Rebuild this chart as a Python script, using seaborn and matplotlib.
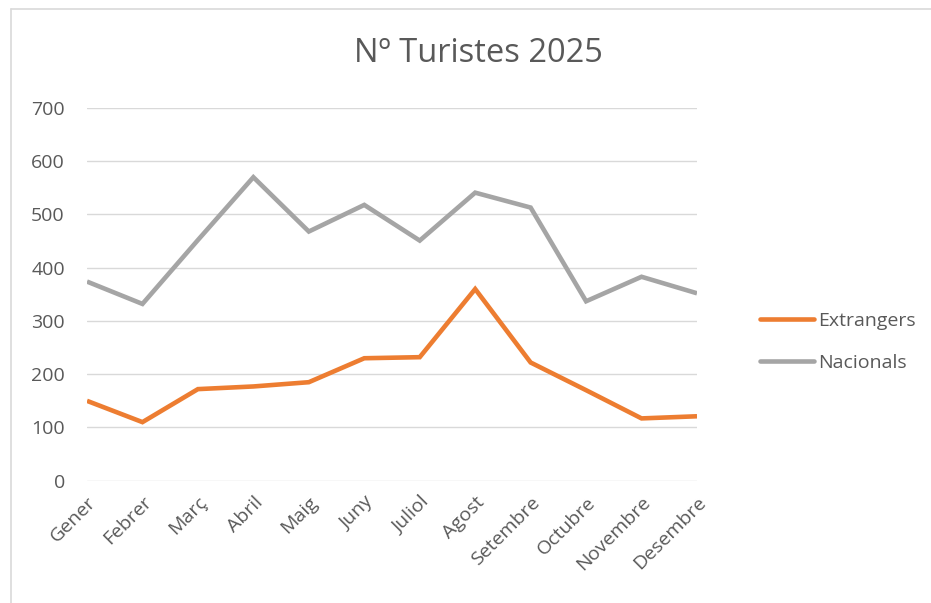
import matplotlib
matplotlib.use("Agg")
import matplotlib.pyplot as plt
from matplotlib.lines import Line2D
import seaborn as sns
import pandas as pd

months = ["Gener", "Febrer", "Març", "Abril", "Maig", "Juny", "Juliol",
          "Agost", "Setembre", "Octubre", "Novembre", "Desembre"]
extrangers = [150, 110, 172, 177, 185, 230, 232, 360, 222, 170, 117, 121]
nacionals = [374, 332, 452, 570, 468, 518, 451, 541, 513, 337, 383, 352]
series_names = ["Extrangers", "Nacionals"]
colors = ["#ED7D31", "#A5A5A5"]
yticks = [0, 100, 200, 300, 400, 500, 600, 700]

sns.set_theme(style="white")
plt.rcParams['font.family'] = ['Open Sans', 'DejaVu Sans']

df = pd.DataFrame({
    "pos": list(range(len(months))) * 2,
    "value": extrangers + nacionals,
    "serie": [series_names[0]] * len(months) + [series_names[1]] * len(months),
})

W, H = 931, 603
fig = plt.figure(figsize=(W / 100, H / 100), dpi=100)
ax = fig.add_axes([87 / W, 1 - 480.7 / H, (697 - 87) / W, (480.7 - 108) / H])

sns.lineplot(data=df, x="pos", y="value", hue="serie", palette=colors,
             linewidth=3.3, ax=ax, legend=False, zorder=3)
for l in ax.lines:
    l.set_solid_joinstyle("miter")
    l.set_solid_capstyle("butt")

ax.set_xlim(0, len(months) - 1)
ax.set_ylim(0, 700)
ax.set_yticks(yticks)
ax.set_yticklabels([str(v) for v in yticks])
ax.set_xticks(range(len(months)))
ax.set_xticklabels(months, rotation=45, ha="right", rotation_mode="anchor")
ax.grid(axis="y", color="#D9D9D9", linewidth=1.0, zorder=0)
ax.set_axisbelow(True)
for s in ax.spines.values():
    s.set_visible(False)
ax.tick_params(axis="y", length=0, pad=16, labelsize=14, labelcolor="#595959")
ax.tick_params(axis="x", length=0, pad=9, labelsize=14, labelcolor="#595959")
ax.set_xlabel("")
ax.set_ylabel("")

handles = [Line2D([0], [0], color=c, linewidth=3.3, solid_capstyle="round") for c in colors]
leg = fig.legend(handles, series_names, loc="center left",
                 bbox_to_anchor=(742 / W, 1 - 342 / H), frameon=False,
                 fontsize=14, handlelength=2.8, handletextpad=0.2,
                 labelspacing=1.25, labelcolor="#595959")

fig.text(478 / W, 1 - 53 / H, "Nº Turistes 2025", ha="center", va="center",
         fontsize=23.5, color="#595959")

fig.add_artist(Line2D([10.5 / W, 10.5 / W], [0, 1 - 8.5 / H], color="#D9D9D9",
                      linewidth=1.2, transform=fig.transFigure))
fig.add_artist(Line2D([10.5 / W, 1], [1 - 8.5 / H, 1 - 8.5 / H], color="#D9D9D9",
                      linewidth=1.2, transform=fig.transFigure))

fig.savefig("out.png", dpi=100)
